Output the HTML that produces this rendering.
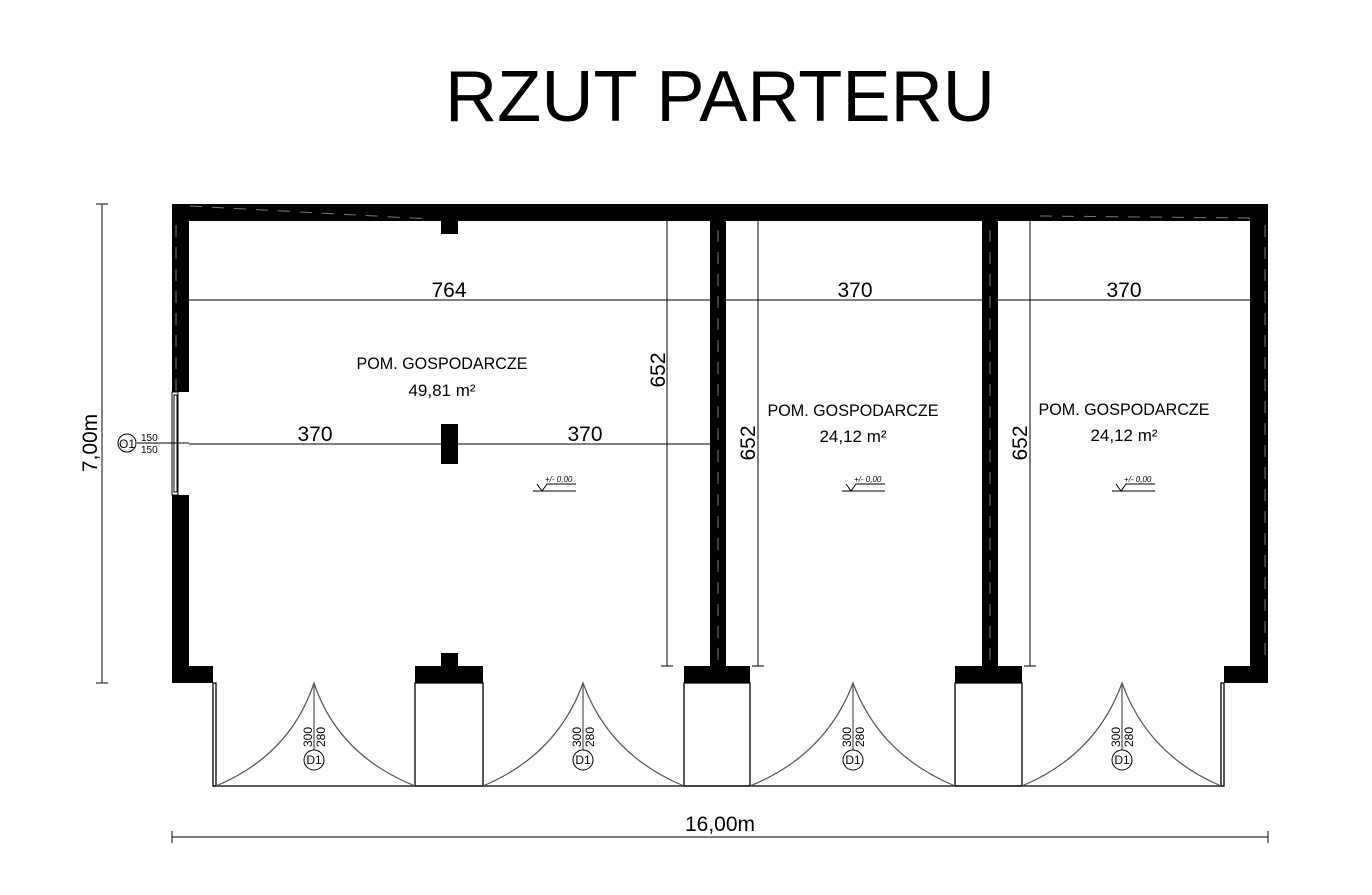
<!DOCTYPE html>
<html><head><meta charset="utf-8"><style>
html,body{margin:0;padding:0;background:#fff;}
svg{display:block;}
text{font-family:"Liberation Sans",sans-serif;fill:#000;}
.dim{font-size:21px;fill:#333;}
</style></head><body>
<svg width="1372" height="895" viewBox="0 0 1372 895" xmlns="http://www.w3.org/2000/svg">
<text x="720" y="121" font-size="72" text-anchor="middle" textLength="550" lengthAdjust="spacingAndGlyphs">RZUT PARTERU</text>

<!-- walls -->
<g fill="#000">
<rect x="172" y="204" width="1096" height="17"/>
<rect x="172" y="204" width="17" height="188"/>
<rect x="172" y="495" width="17" height="188"/>
<rect x="172" y="666" width="41" height="17"/>
<rect x="441" y="220" width="17" height="14"/>
<rect x="441" y="424" width="17" height="40"/>
<rect x="441" y="653" width="17" height="14"/>
<rect x="415" y="666" width="68" height="17"/>
<rect x="710" y="220" width="16" height="463"/>
<rect x="684" y="666" width="66" height="17"/>
<rect x="982" y="220" width="16" height="463"/>
<rect x="955" y="666" width="67" height="17"/>
<rect x="1250" y="204" width="18" height="479"/>
<rect x="1224" y="666" width="44" height="17"/>
</g>
<g stroke="#777" stroke-width="1" stroke-dasharray="12,10" fill="none">
<line x1="190" y1="206" x2="430" y2="219"/>
<line x1="1040" y1="216" x2="1250" y2="218"/>
<line x1="176" y1="225" x2="176" y2="392"/>
<line x1="1265" y1="225" x2="1265" y2="660"/>
<line x1="718" y1="230" x2="718" y2="660"/>
<line x1="990" y1="230" x2="990" y2="660"/>
</g>

<!-- window -->
<g stroke="#000" stroke-width="1" fill="#fff">
<rect x="172" y="392" width="6" height="103"/>
<rect x="174" y="395" width="3" height="97"/>
</g>
<circle cx="127" cy="443" r="9" fill="none" stroke="#000"/>
<text x="127" y="448" font-size="12" text-anchor="middle">O1</text>
<line x1="137" y1="443" x2="189" y2="443" stroke="#000"/>
<text x="141" y="441" font-size="10">150</text>
<text x="141" y="453" font-size="10">150</text>

<!-- doors -->
<g stroke="#000" stroke-width="1.3" fill="none">
<line x1="213" y1="786" x2="1224" y2="786"/>
<rect x="213" y="683" width="3" height="103"/>
<rect x="415" y="683" width="68" height="103"/>
<rect x="684" y="683" width="66" height="103"/>
<rect x="955" y="683" width="67" height="103"/>
<rect x="1221" y="683" width="3" height="103"/>
</g>
<g stroke="#555" stroke-width="1.2" fill="none">
<path d="M216 786 Q290 755 314 683 Q338 755 415 786"/>
<path d="M483 786 Q557 755 583 683 Q609 755 684 786"/>
<path d="M750 786 Q826 755 853 683 Q880 755 955 786"/>
<path d="M1022 786 Q1096 755 1122 683 Q1148 755 1221 786"/>
<line x1="314" y1="683" x2="314" y2="750"/>
<line x1="583" y1="683" x2="583" y2="750"/>
<line x1="853" y1="683" x2="853" y2="750"/>
<line x1="1122" y1="683" x2="1122" y2="750"/>
</g>
<g font-size="12">
<g transform="translate(312,747) rotate(-90)"><text>300</text></g>
<g transform="translate(325,747) rotate(-90)"><text>280</text></g>
<g transform="translate(581,747) rotate(-90)"><text>300</text></g>
<g transform="translate(594,747) rotate(-90)"><text>280</text></g>
<g transform="translate(851,747) rotate(-90)"><text>300</text></g>
<g transform="translate(864,747) rotate(-90)"><text>280</text></g>
<g transform="translate(1120,747) rotate(-90)"><text>300</text></g>
<g transform="translate(1133,747) rotate(-90)"><text>280</text></g>
</g>
<g fill="#fff" stroke="#000">
<circle cx="314" cy="760" r="10"/><circle cx="583" cy="760" r="10"/>
<circle cx="853" cy="760" r="10"/><circle cx="1122" cy="760" r="10"/>
</g>
<g font-size="12" text-anchor="middle">
<text x="314" y="764">D1</text><text x="583" y="764">D1</text>
<text x="853" y="764">D1</text><text x="1122" y="764">D1</text>
</g>

<!-- inner dimensions -->
<g stroke="#000" stroke-width="1">
<line x1="189" y1="300" x2="710" y2="300"/>
<line x1="726" y1="300" x2="982" y2="300"/>
<line x1="998" y1="300" x2="1250" y2="300"/>
<line x1="189" y1="444" x2="441" y2="444"/>
<line x1="458" y1="444" x2="710" y2="444"/>
<line x1="667" y1="220" x2="667" y2="666"/>
<line x1="758" y1="220" x2="758" y2="666"/>
<line x1="1030" y1="220" x2="1030" y2="666"/>
<line x1="661" y1="666" x2="673" y2="666"/>
<line x1="752" y1="666" x2="764" y2="666"/>
<line x1="1024" y1="666" x2="1036" y2="666"/>
</g>
<g class="dim" text-anchor="middle">
<text x="449" y="297">764</text>
<text x="855" y="297">370</text>
<text x="1124" y="297">370</text>
<text x="315" y="441">370</text>
<text x="585" y="441">370</text>
<g transform="translate(665,370) rotate(-90)"><text x="0" y="0">652</text></g>
<g transform="translate(755,443) rotate(-90)"><text x="0" y="0">652</text></g>
<g transform="translate(1027,443) rotate(-90)"><text x="0" y="0">652</text></g>
</g>

<!-- room labels -->
<g font-size="17" text-anchor="middle">
<text x="442" y="369" textLength="171" lengthAdjust="spacingAndGlyphs">POM. GOSPODARCZE</text>
<text x="442" y="396">49,81 m²</text>
<text x="853" y="416" textLength="171" lengthAdjust="spacingAndGlyphs">POM. GOSPODARCZE</text>
<text x="853" y="442">24,12 m²</text>
<text x="1124" y="415" textLength="171" lengthAdjust="spacingAndGlyphs">POM. GOSPODARCZE</text>
<text x="1124" y="441">24,12 m²</text>
</g>

<!-- level marks -->
<g stroke="#000" stroke-width="1" fill="none">
<path d="M533 491 H576 M537 484 L542 491 L547 484 H576"/>
<path d="M842 491 H885 M846 484 L851 491 L856 484 H885"/>
<path d="M1112 491 H1155 M1116 484 L1121 491 L1126 484 H1155"/>
</g>
<g font-size="8" font-style="italic">
<text x="545" y="482">+/- 0,00</text>
<text x="854" y="482">+/- 0,00</text>
<text x="1124" y="482">+/- 0,00</text>
</g>

<!-- outer dims -->
<g stroke="#333" stroke-width="1.2">
<line x1="102" y1="204" x2="102" y2="683"/>
<line x1="96" y1="204" x2="108" y2="204"/>
<line x1="96" y1="683" x2="108" y2="683"/>
<line x1="172" y1="837" x2="1268" y2="837"/>
<line x1="172" y1="831" x2="172" y2="843"/>
<line x1="1268" y1="831" x2="1268" y2="843"/>
</g>
<g class="dim" text-anchor="middle">
<text x="720" y="831">16,00m</text>
<g transform="translate(97,443) rotate(-90)"><text>7,00m</text></g>
</g>
</svg>
</body></html>
